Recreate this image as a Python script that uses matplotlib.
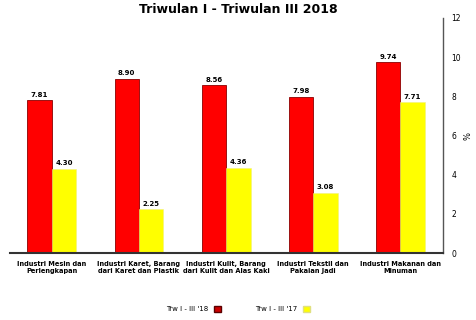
import matplotlib
matplotlib.use("Agg")
import matplotlib.pyplot as plt
import numpy as np
from matplotlib.patches import Patch

categories = ["Industri Mesin dan\nPerlengkapan",
              "Industri Karet, Barang\ndari Karet dan Plastik",
              "Industri Kulit, Barang\ndari Kulit dan Alas Kaki",
              "Industri Tekstil dan\nPakaian Jadi",
              "Industri Makanan dan\nMinuman"]
trw18 = [7.81, 8.90, 8.56, 7.98, 9.74]
trw17 = [4.30, 2.25, 4.36, 3.08, 7.71]
label18 = "Trw I - III '18"
label17 = "Trw I - III '17"
title = "Triwulan I - Triwulan III 2018"
yticks = [0, 2, 4, 6, 8, 10, 12]

fig = plt.figure(figsize=(4.76, 3.2), dpi=100)
ax = fig.add_axes([0.021, 0.209, 0.910, 0.735])

x = np.arange(len(categories))
w = 0.28
ax.bar(x - w/2, trw18, w, color="#ff0000", edgecolor="#8b0000", linewidth=0.6)
ax.bar(x + w/2, trw17, w, color="#ffff00", edgecolor="#f0f080", linewidth=0.4)

for xi, v in zip(x - w/2, trw18):
    ax.text(xi, v + 0.12, f"{v:.2f}", ha="center", va="bottom", fontsize=5, fontweight="bold")
for xi, v in zip(x + w/2, trw17):
    ax.text(xi, v + 0.12, f"{v:.2f}", ha="center", va="bottom", fontsize=5, fontweight="bold")

ax.set_xlim(-0.48, 4.49)
ax.set_ylim(0, 12)
ax.set_yticks(yticks)
ax.yaxis.tick_right()
ax.yaxis.set_label_position("right")
ax.set_ylabel("%", fontsize=6, rotation=90, labelpad=2)
ax.tick_params(axis="y", length=0, labelsize=5.5, pad=6)
ax.set_xticks(x)
ax.set_xticklabels(categories, fontsize=4.8, fontweight="bold")
ax.tick_params(axis="x", length=0, pad=6)

for s in ["top", "left"]:
    ax.spines[s].set_visible(False)
ax.spines["right"].set_color("#555555")
ax.spines["right"].set_linewidth(1.0)
ax.spines["bottom"].set_color("#333333")
ax.spines["bottom"].set_linewidth(1.5)

fig.text(0.5, 0.992, title, ha="center", va="top", fontsize=9, fontweight="bold")

handles = [Patch(facecolor="#cc0000", edgecolor="#5a0000", label=label18),
           Patch(facecolor="#ffff00", edgecolor="#e0e080", label=label17)]
fig.legend(handles=handles, loc="center", bbox_to_anchor=(0.5, 0.035), ncol=2,
           frameon=False, fontsize=5, markerfirst=False, handlelength=1.0,
           handleheight=1.0, columnspacing=5)

fig.savefig("out.png", dpi=100)
